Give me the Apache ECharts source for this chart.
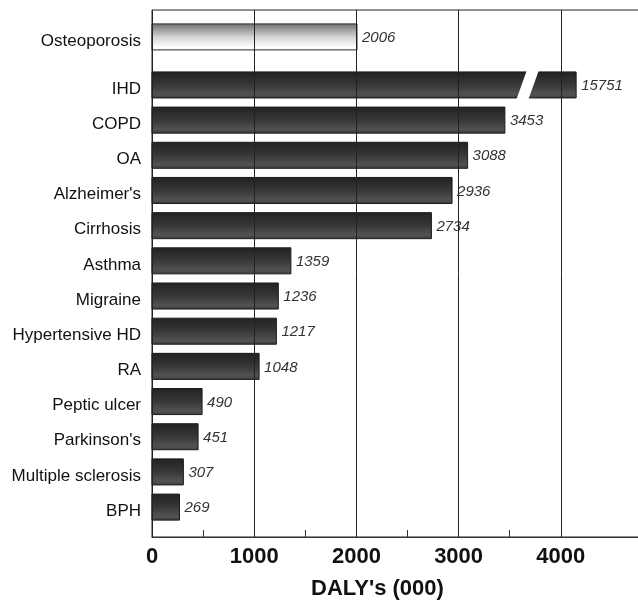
<!DOCTYPE html>
<html>
<head>
<meta charset="utf-8">
<script src="https://cdn.jsdelivr.net/npm/echarts@6/dist/echarts.min.js"></script>
<style>html,body{margin:0;padding:0;background:#fff}#c{width:638px;height:605px}</style>
</head>
<body>
<div id="c"></div>
<script>
// ---- data ----
const categories = ['Osteoporosis', 'IHD', 'COPD', 'OA', "Alzheimer's", 'Cirrhosis', 'Asthma', 'Migraine', 'Hypertensive HD', 'RA', 'Peptic ulcer', "Parkinson's", 'Multiple sclerosis', 'BPH'];
const values = [2006, 15751, 3453, 3088, 2936, 2734, 1359, 1236, 1217, 1048, 490, 451, 307, 269];
const xTickLabels = [0, 1000, 2000, 3000, 4000];
const xMinorTicks = [500, 1500, 2500, 3500];
const highlightedCategory = 'Osteoporosis';

// ---- display settings (not data) ----
const axisLimit = 5000;        // values above this are drawn with a broken bar
const brokenBarEnd = 4150;     // where a broken bar is cut off
const breakMark = 3675;        // where the slanted gap is drawn
const sectionGap = 0.365;      // extra space after the highlighted row
const barThickness = 0.74;

function rowPos(i) { return i === 0 ? -sectionGap : i; }

const chart = echarts.init(document.getElementById('c'), null, {renderer: 'canvas'});

const darkFill = new echarts.graphic.LinearGradient(0, 0, 0, 1, [
  {offset: 0, color: '#222222'},
  {offset: 0.45, color: '#353535'},
  {offset: 0.85, color: '#525252'},
  {offset: 1, color: '#3a3a3a'}
]);
const lightFill = new echarts.graphic.LinearGradient(0, 0, 0, 1, [
  {offset: 0, color: '#6e6e6e'},
  {offset: 0.5, color: '#d4d4d4'},
  {offset: 0.9, color: '#ffffff'},
  {offset: 1, color: '#f4f4f4'}
]);

function renderItem(params, api) {
  const v = api.value(0);
  const p = api.value(1);
  const idx = api.value(2);
  const broken = v > axisLimit;
  const drawV = broken ? brokenBarEnd : v;
  const s = api.coord([0, p]);
  const e = api.coord([drawV, p]);
  const h = api.size([0, barThickness])[1];
  const top = s[1] - h / 2;
  const isHi = categories[idx] === highlightedCategory;
  const children = [{
    type: 'rect',
    shape: {x: s[0], y: top, width: e[0] - s[0], height: h},
    style: {fill: isHi ? lightFill : darkFill, stroke: isHi ? '#2a2a2a' : '#1c1c1c', lineWidth: 1}
  }];
  if (broken) {
    const bx = api.coord([breakMark, p])[0];
    children.push({
      type: 'polygon',
      shape: {points: [[bx - 1, top - 1], [bx + 11, top - 1], [bx + 1, top + h + 1], [bx - 11, top + h + 1]]},
      style: {fill: '#ffffff'}
    });
  }
  children.push({
    type: 'text',
    x: e[0] + 5, y: s[1] + 1,
    style: {text: String(v), fill: '#333', font: 'italic 15px "Liberation Sans", Arial, sans-serif', align: 'left', verticalAlign: 'middle'}
  });
  children.push({
    type: 'text',
    x: s[0] - 11, y: s[1] + 4,
    style: {text: categories[idx], fill: '#111', font: '17px "Liberation Sans", Arial, sans-serif', align: 'right', verticalAlign: 'middle'}
  });
  return {type: 'group', children: children};
}

const option = {
  animation: false,
  backgroundColor: '#ffffff',
  grid: {left: 152, top: 10, width: 511, bottom: 68, outerBoundsMode: 'none', containLabel: false, show: true, borderColor: '#222', borderWidth: 1, backgroundColor: 'transparent'},
  xAxis: [{
    type: 'value', min: 0, max: axisLimit, interval: 1000, position: 'bottom',
    axisLine: {show: true, onZero: false, lineStyle: {color: '#333', width: 1}},
    axisTick: {show: false},
    axisLabel: {
      customValues: xTickLabels, margin: 9, formatter: v => String(v),
      color: '#111', fontSize: 22, fontWeight: 'bold', fontFamily: '"Liberation Sans", Arial, sans-serif'
    },
    splitLine: {show: true, lineStyle: {color: '#222', width: 1}},
    name: "DALY's (000)", nameLocation: 'middle', nameGap: 41,
    nameTextStyle: {color: '#111', fontSize: 22, fontWeight: 'bold', fontFamily: '"Liberation Sans", Arial, sans-serif', padding: [0, 60, 0, 0]},
    z: 5
  }, {
    type: 'value', min: 0, max: axisLimit, interval: 1000, position: 'bottom',
    axisLine: {show: false, onZero: false},
    axisTick: {show: true, inside: true, length: 7, customValues: xMinorTicks, lineStyle: {color: '#333'}},
    axisLabel: {show: false},
    splitLine: {show: false},
    z: 5
  }],
  yAxis: {
    type: 'value', inverse: true, min: -1.13, max: 13.85, show: false
  },
  series: [{
    type: 'custom',
    renderItem: renderItem,
    clip: false,
    xAxisIndex: 0,
    encode: {x: 0, y: 1},
    z: 1,
    data: categories.map((c, i) => [values[i], rowPos(i), i])
  }]
};
chart.setOption(option);
</script>
</body>
</html>
